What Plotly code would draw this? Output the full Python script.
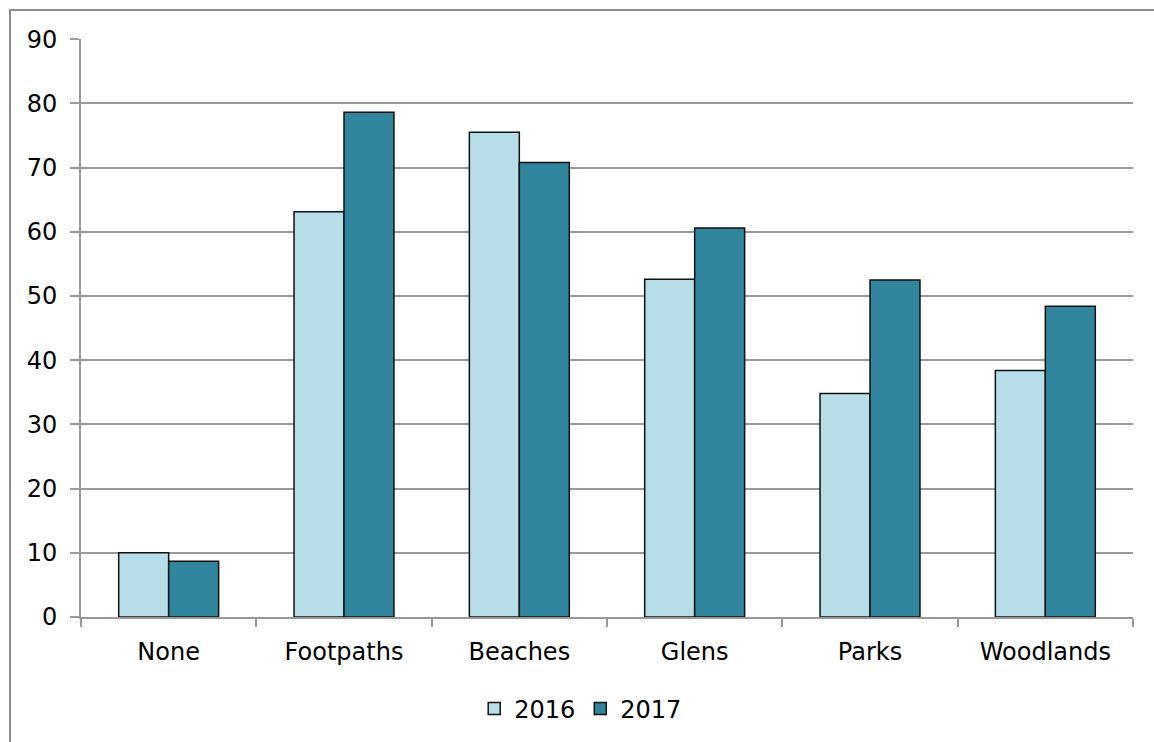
import plotly.graph_objects as go

categories = ["None", "Footpaths", "Beaches", "Glens", "Parks", "Woodlands"]
values_2016 = [10.0, 63.1, 75.5, 52.6, 34.8, 38.4]
values_2017 = [8.7, 78.6, 70.8, 60.6, 52.5, 48.4]
y_ticks = [0, 10, 20, 30, 40, 50, 60, 70, 80, 90]

W, H = 1154, 742
ML, MR, MT, MB = 81, 21, 39, 125

font_family = "Tahoma, DejaVu Sans, sans-serif"
FS = 24

fig = go.Figure()
fig.add_trace(go.Bar(
    x=categories, y=values_2016, name="2016",
    marker=dict(color="#B7DDE8", line=dict(color="#111111", width=1.5)),
))
fig.add_trace(go.Bar(
    x=categories, y=values_2017, name="2017",
    marker=dict(color="#31859C", line=dict(color="#111111", width=1.5)),
))

pw = W - ML - MR
ph = H - MT - MB
# outer chart border
fig.add_shape(
    type="rect", xref="paper", yref="paper",
    x0=(10 - ML) / pw, x1=(W + 5 - ML) / pw,
    y0=-(H + 5 - MT - ph) / ph, y1=1 + (MT - 10) / ph,
    line=dict(color="#8c8c8c", width=2), fillcolor="rgba(0,0,0,0)", layer="below",
)

fig.update_layout(
    width=W, height=H,
    margin=dict(l=ML, r=MR, t=MT, b=MB, autoexpand=False),
    paper_bgcolor="white", plot_bgcolor="white",
    barmode="group", bargap=0.43, bargroupgap=0,
    font=dict(family=font_family, size=FS, color="#000000"),
    showlegend=True,
    legend=dict(orientation="h", x=0.475, xanchor="center", y=-0.12, yanchor="top",
                font=dict(family=font_family, size=FS), itemwidth=30, traceorder="normal"),
    xaxis=dict(
        automargin=False,
        showline=True, linecolor="#999999", linewidth=2,
        ticks="outside", tickson="boundaries", ticklen=8, tickcolor="#999999", tickwidth=2,
        showgrid=False, tickfont=dict(family=font_family, size=FS), ticklabelstandoff=12,
    ),
    yaxis=dict(
        automargin=False,
        range=[0, 90.02], tickvals=y_ticks,
        showline=True, linecolor="#999999", linewidth=2,
        ticks="outside", ticklen=9, tickcolor="#999999", tickwidth=2,
        showgrid=True, gridcolor="#999999", gridwidth=2,
        zeroline=False, tickfont=dict(family=font_family, size=FS), ticklabelstandoff=8,
    ),
)

fig.write_html("out.html")
